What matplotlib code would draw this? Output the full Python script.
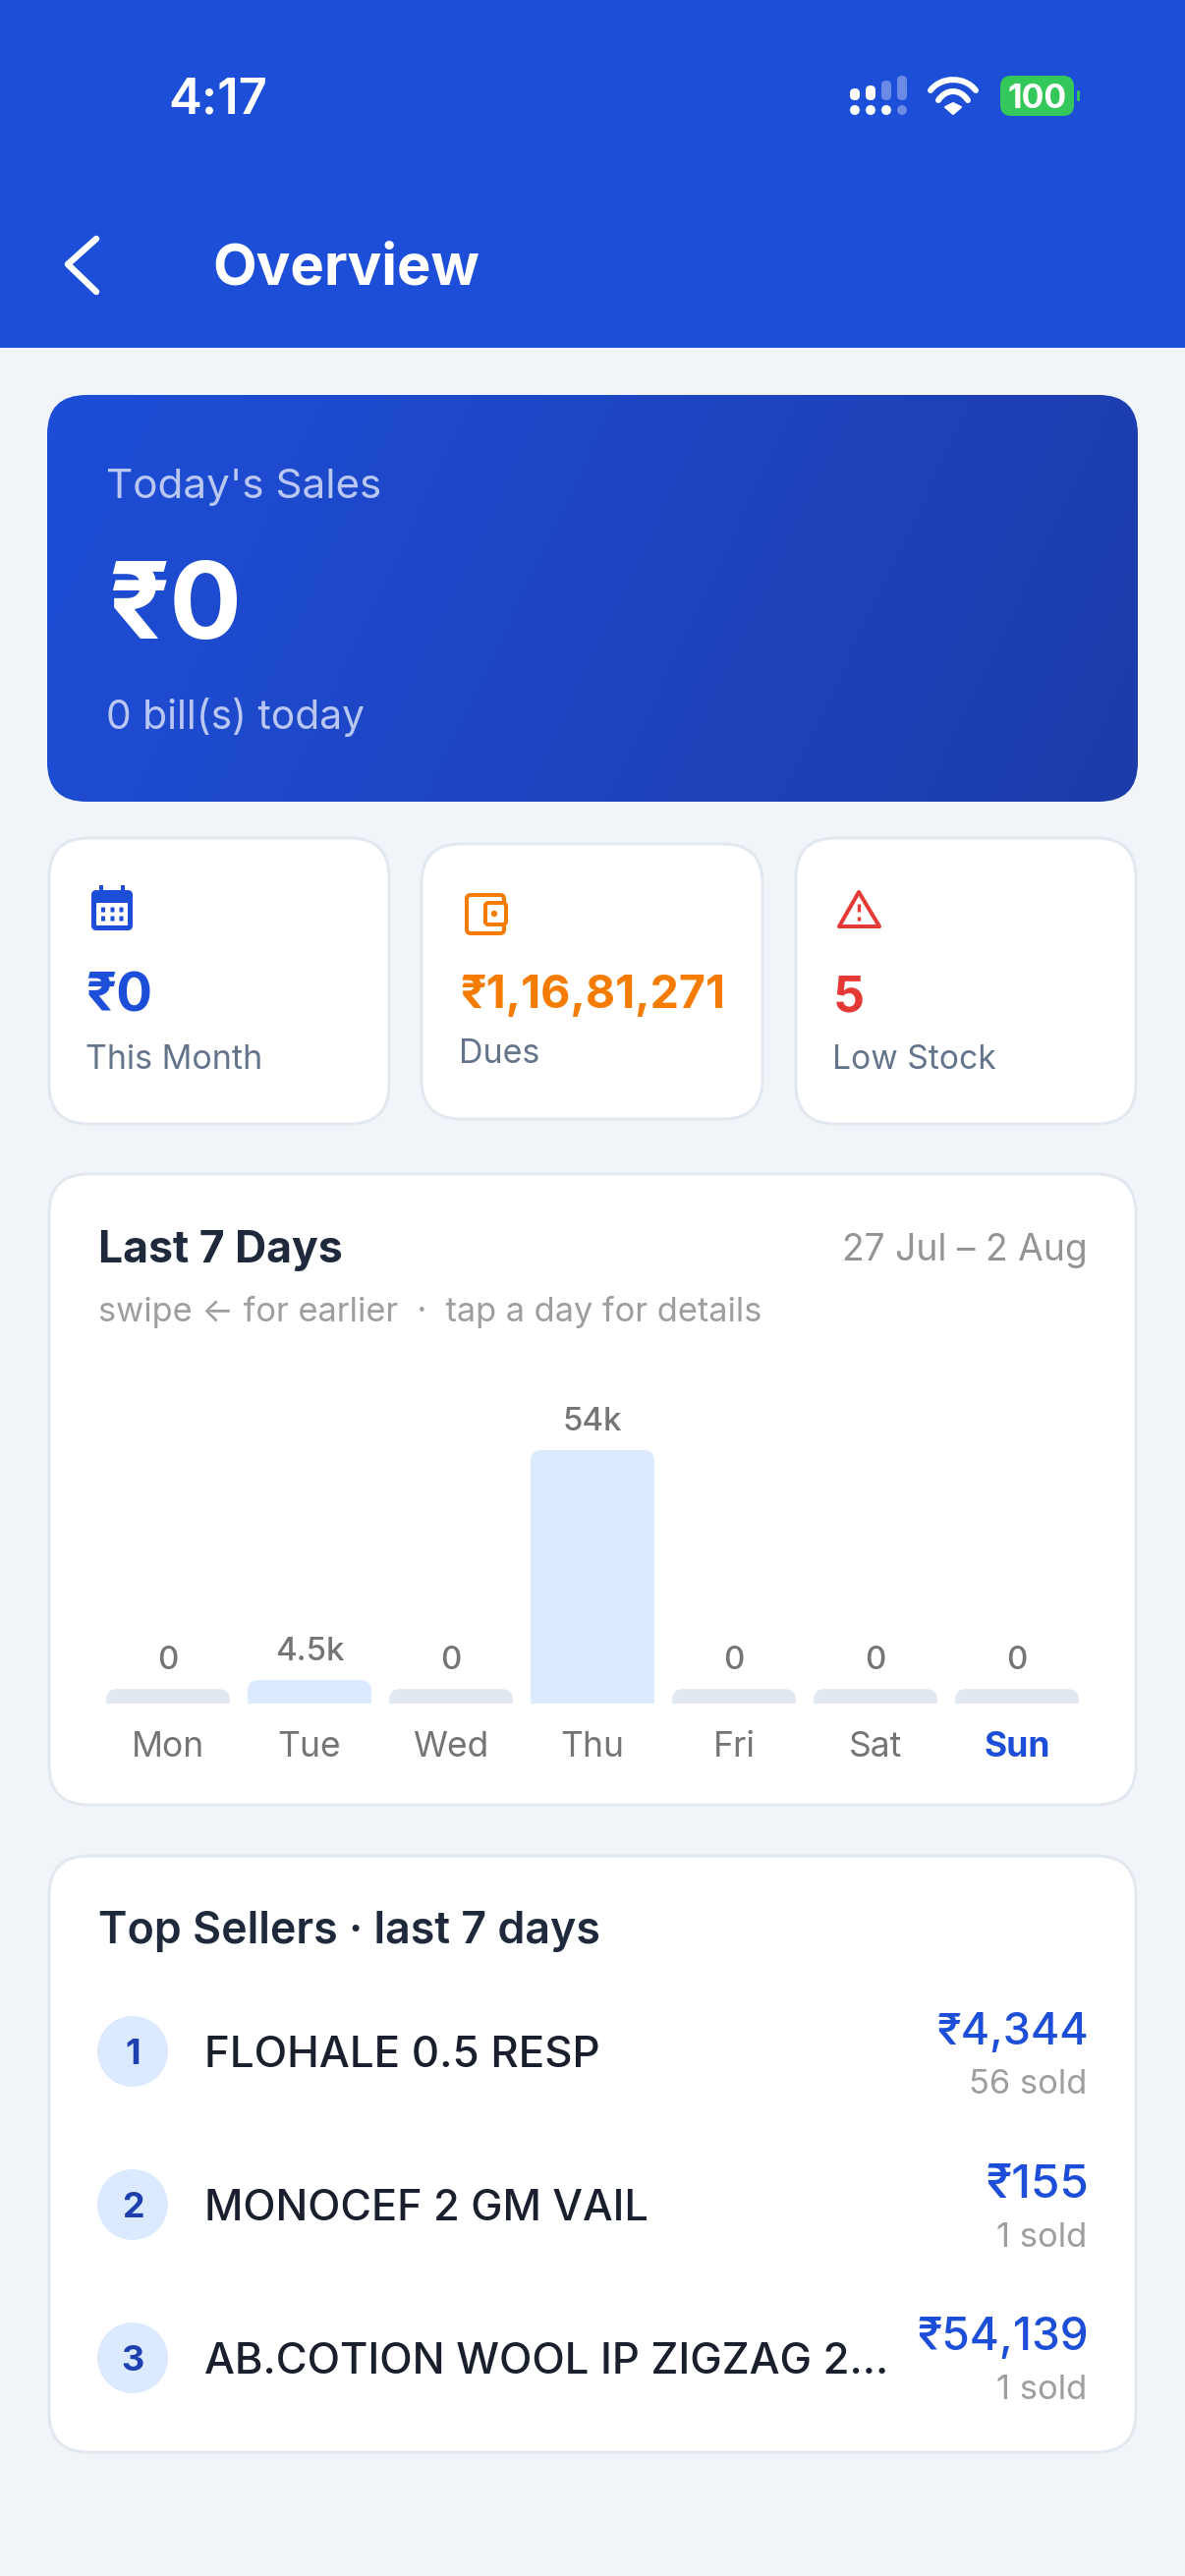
import numpy as np
import matplotlib
matplotlib.use("Agg")
import matplotlib.pyplot as plt
from matplotlib.patches import FancyBboxPatch, Circle, Polygon, PathPatch
from matplotlib.path import Path

FONT = ['Inter', 'Noto Sans', 'DejaVu Sans']
plt.rcParams['font.family'] = FONT

# ---- data ----
days = ['Mon', 'Tue', 'Wed', 'Thu', 'Fri', 'Sat', 'Sun']
bar_values_k = [0, 5.0, 0, 54.0, 0, 0, 0]
bar_labels = ['0', '4.5k', '0', '54k', '0', '0', '0']
zero_stub_k = 3.1
seller_names = ['FLOHALE 0.5 RESP', 'MONOCEF 2 GM VAIL', 'AB.COTION WOOL IP ZIGZAG 2...']
seller_amounts = ['₹4,344', '₹155', '₹54,139']
seller_sold = ['56 sold', '1 sold', '1 sold']
seller_ranks = ['1', '2', '3']

BLUE = '#1D4ED8'
BG = '#F1F5F9'
BORDER = '#E2E8F0'
W, H = 1206, 2622

fig = plt.figure(figsize=(W / 100, H / 100), dpi=100, facecolor=BG)
ui = fig.add_axes([0, 0, 1, 1])
ui.set_xlim(0, W)
ui.set_ylim(H, 0)
ui.axis('off')
renderer = fig.canvas.get_renderer()
PX = 0.72


def T(x, y, s, px, color, weight='normal', ha='left', width=None):
    t = ui.text(x, y, s, fontsize=px * PX, color=color, fontweight=weight, ha=ha,
                va='baseline', family=FONT, zorder=10)
    if width is not None:
        w = t.get_window_extent(renderer).width
        t.set_fontsize(px * PX * width / w)
    return t


def rbox(x0, y0, x1, y1, r, fc, ec='none', lw=0, z=2):
    p = FancyBboxPatch((x0 + r, y0 + r), x1 - x0 - 2 * r, y1 - y0 - 2 * r,
                       boxstyle=f'round,pad={r},rounding_size={r}', fc=fc, ec=ec,
                       lw=lw * PX, zorder=z)
    ui.add_patch(p)
    return p


# header
ui.fill_between([0, W], 0, 354, color=BLUE, lw=0, zorder=1)
T(171, 115, '4:17', 48, 'white', 'semibold', width=101)
T(216, 289, 'Overview', 55, 'white', 'bold', width=272)
ui.plot([98, 69, 98], [243, 269, 297], color='white', lw=6.5 * PX, solid_capstyle='round',
        solid_joinstyle='round', zorder=5)

# status icons
FADE = '#6A8AE6'
for x, top, c in zip([870, 886, 902, 918], [90, 87, 82, 77], ['white', 'white', FADE, FADE]):
    rbox(x - 5, top, x + 5, 102, 4.9, c, z=5)
for x, c in zip([870, 886, 902, 918], ['white', 'white', 'white', FADE]):
    ui.add_patch(Circle((x, 112), 5, fc=c, ec='none', zorder=5))
for xs, ys in [((947, 958, 982, 993), (92, 77.5, 77.5, 92)), ((955, 963, 977, 985), (102, 90, 90, 102))]:
    ui.add_patch(PathPatch(Path(list(zip(xs, ys)), [1, 4, 4, 4]), fc='none', ec='white', lw=6 * PX,
                           capstyle='round', zorder=5))
ui.add_patch(Polygon([(962, 109), (970, 105), (978, 109), (970, 116)], fc='white', ec='white', lw=1.5,
                     joinstyle='round', zorder=5))
GREEN = '#34C759'
rbox(1018, 77, 1093, 118, 11, GREEN, z=5)
rbox(1096, 92, 1099, 103, 1.4, GREEN, z=5)
T(1055.5, 110, '100', 34, 'white', 'bold', ha='center', width=60)

# hero card with gradient
clip = rbox(48, 402, 1158, 816, 40, 'none', z=2)
grad_x = np.linspace(0, 1, 220)
grad_y = np.linspace(0, 1, 80)
gx, gy = np.meshgrid(grad_x, grad_y)
g = (0.85 * gx + 0.15 * gy)[..., None]
c0 = np.array([0x1D, 0x4E, 0xD8]) / 255
c1 = np.array([0x1E, 0x3C, 0xAA]) / 255
img = ui.imshow(c0 + (c1 - c0) * g, extent=(48, 1158, 816, 402), aspect='auto', zorder=2,
                interpolation='bilinear')
img.set_clip_path(clip)
ui.set_xlim(0, W)
ui.set_ylim(H, 0)
T(108.5, 507, "Today's Sales", 38, '#B9C7F2', width=280)
T(110, 650, '₹0', 100, 'white', 'bold', width=136)
T(108.5, 742, '0 bill(s) today', 36, '#B9C7F2', width=263)

# stat cards
for x0, y0, x1, y1 in [(50, 853, 396, 1144), (429, 859, 776, 1139), (810, 853, 1156, 1144)]:
    rbox(x0, y0, x1, y1, 40, 'white', BORDER, 3)
T(87, 1030, '₹0', 50, BLUE, 'bold', width=68)
T(468, 1026, '₹1,16,81,271', 42, '#F57C00', 'bold', width=270)
T(848, 1029, '5', 50, '#E53935', 'bold', width=32)
T(87, 1088, 'This Month', 33, '#64748B', width=180)
T(467, 1082, 'Dues', 33, '#64748B', width=82)
T(847, 1088, 'Low Stock', 33, '#64748B', width=166)

# calendar icon
rbox(93, 906, 135, 947, 5, BLUE, z=5)
for x in (103, 125):
    ui.plot([x, x], [901, 907], color=BLUE, lw=4 * PX, zorder=5, solid_capstyle='butt')
rbox(98, 919, 130, 942, 1, 'white', z=6)
for x in (105, 114.5, 123.5):
    for y in (926, 935):
        rbox(x - 2, y - 2.5, x + 2, y + 2.5, 0.5, BLUE, z=7)
# wallet icon
OR = '#F57C00'
rbox(475, 911, 513, 950, 4, 'white', OR, 4, z=5)
rbox(494, 919, 515, 941, 3, 'white', OR, 4, z=6)
ui.add_patch(Circle((503, 930), 3.2, fc=OR, ec='none', zorder=7))
# warning icon
RED = '#E53935'
ui.add_patch(Polygon([(874, 908), (895, 943), (854, 943)], closed=True, fc='white', ec=RED, lw=4 * PX,
                     joinstyle='round', zorder=5))
ui.plot([874, 874], [920, 928], color=RED, lw=3.4 * PX, zorder=6, solid_capstyle='butt')
ui.plot([874, 874], [933, 937], color=RED, lw=3.4 * PX, zorder=6, solid_capstyle='butt')

# chart card
rbox(50, 1195, 1156, 1837, 40, 'white', BORDER, 3)
T(100, 1285, 'Last 7 Days', 40, '#1E293B', 'bold', width=249)
T(1107, 1283, '27 Jul – 2 Aug', 36, '#949494', ha='right', width=250)
T(100, 1345, 'swipe ← for earlier  ·  tap a day for details', 32, '#9E9E9E', width=675)

# bar chart: 108..1098 px wide, baseline 1734, 54k top at 1476
ax = fig.add_axes([108 / W, 1 - 1734 / H, 990 / W, 258 / H], facecolor='none', zorder=5)
ax.set_xlim(-0.4375, 6.4375)
ax.set_ylim(0, 54)
for s in ax.spines.values():
    s.set_visible(False)
ax.set_yticks([])
heights = [v if v > 0 else zero_stub_k for v in bar_values_k]
colors = ['#DBEAFE' if v > 0 else '#E2E8F0' for v in bar_values_k]
bars = ax.bar(range(7), heights, width=0.875, color=colors, lw=0, clip_on=True)
ax.set_ylim(0, 54)
to_ui = ui.transData.inverted()
for i, (b, h, lab) in enumerate(zip(bars, heights, bar_labels)):
    (px0, py1), (px1, py0) = to_ui.transform(ax.transData.transform([(i - 0.4375, h), (i + 0.4375, 0)]))
    r = 11
    cp = FancyBboxPatch((px0 + r, py1 + r), px1 - px0 - 2 * r, py0 - py1 + 20,
                        boxstyle=f'round,pad={r},rounding_size={r}', transform=ui.transData)
    b.set_clip_path(cp)
    ax.annotate(lab, (i, h), xytext=(0, 20.5 * PX), textcoords='offset points', ha='center', va='baseline',
                fontsize=33 * PX, fontweight='medium', color='#757575', family=FONT, annotation_clip=False)
ax.set_xticks(range(7))
ax.set_xticklabels(days, fontsize=35.5 * PX, color='#757575', family=FONT, va='baseline')
ax.tick_params(axis='x', length=0, pad=54 * PX)
sun = ax.get_xticklabels()[-1]
sun.set_color(BLUE)
sun.set_fontweight('bold')

# top sellers card
rbox(50, 1889, 1156, 2496, 40, 'white', BORDER, 3)
T(100, 1978, 'Top Sellers · last 7 days', 40, '#1E293B', 'semibold', width=512)
name_w = [403, 452, 697]
amount_w = [155, 105, 175]
sold_w = [120, 92, 92]
rows = [(2088, 2104.5, 2081, 2131), (2244, 2260, 2237, 2287), (2400, 2416, 2392, 2442.5)]
for rk, nm, am, sd, nw, aw, sw, (cy, ny, ay, sy) in zip(seller_ranks, seller_names, seller_amounts, seller_sold,
                                                       name_w, amount_w, sold_w, rows):
    ui.add_patch(Circle((135, cy), 36, fc='#DBEAFE', ec='none', zorder=5))
    T(135, cy + 13, rk, 36, '#1E40AF', 'bold', ha='center')
    T(208.5, ny, nm, 40, '#1A1F2E', 'medium', width=nw)
    T(1108, ay, am, 42, BLUE, 'medium', ha='right', width=aw)
    T(1106, sy, sd, 33, '#9E9E9E', ha='right', width=sw)

fig.savefig('out.png', dpi=100, facecolor=BG)
